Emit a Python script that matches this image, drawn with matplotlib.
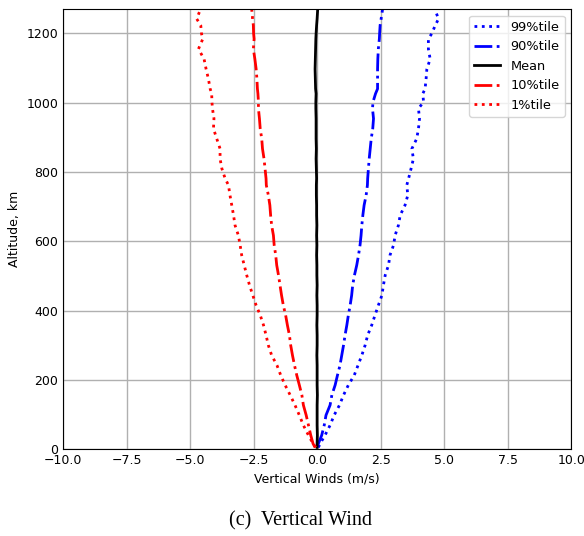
import numpy as np
import matplotlib
matplotlib.use('Agg')
import matplotlib.pyplot as plt

# altitude (km) and wind percentiles (m/s)
alt = [5, 16, 40, 69, 98, 127, 156, 185, 213, 242, 271, 300, 329, 358, 387,
       415, 444, 473, 502, 531, 560, 589, 617, 646, 675, 704, 733, 762, 781,
       810, 838, 867, 896, 925, 954, 983, 1002, 1026, 1040, 1069, 1097, 1126,
       1155, 1184, 1199, 1223, 1242, 1266, 1275]

p99 = [0.05, 0.12, 0.31, 0.51, 0.67, 0.88, 1.04, 1.23, 1.46, 1.61, 1.76, 1.89,
       1.99, 2.15, 2.28, 2.41, 2.55, 2.61, 2.68, 2.81, 2.87, 3.01, 3.07, 3.20,
       3.27, 3.46, 3.57, 3.53, 3.60, 3.70, 3.79, 3.73, 3.92, 3.99, 4.03, 3.99,
       4.19, 4.16, 4.25, 4.29, 4.32, 4.45, 4.38, 4.38, 4.51, 4.65, 4.78, 4.65,
       4.70]
p90 = [0.02, 0.05, 0.18, 0.28, 0.35, 0.51, 0.58, 0.71, 0.80, 0.90, 0.97, 1.04,
       1.10, 1.17, 1.23, 1.30, 1.36, 1.40, 1.47, 1.56, 1.63, 1.69, 1.73, 1.76,
       1.80, 1.85, 1.93, 1.98, 1.99, 2.02, 2.05, 2.09, 2.13, 2.19, 2.22, 2.18,
       2.20, 2.30, 2.38, 2.38, 2.38, 2.39, 2.41, 2.45, 2.46, 2.48, 2.52, 2.57,
       2.58]
mean = [0.0, 0.0, 0.01, 0.0, 0.0, 0.0, 0.01, 0.0, 0.0, 0.0, -0.01, 0.0, 0.0,
        -0.01, 0.0, 0.0, -0.01, 0.0, -0.01, -0.01, -0.02, -0.01, -0.02, -0.01,
        -0.02, -0.02, -0.03, -0.03, -0.02, -0.03, -0.04, -0.03, -0.04, -0.04,
        -0.04, -0.05, -0.05, -0.04, -0.06, -0.07, -0.08, -0.07, -0.06, -0.05,
        -0.04, -0.02, 0.0, 0.02, 0.02]
p10 = [-0.08, -0.16, -0.25, -0.34, -0.43, -0.54, -0.60, -0.70, -0.80, -0.89,
       -0.97, -1.04, -1.09, -1.17, -1.24, -1.33, -1.40, -1.46, -1.52, -1.59,
       -1.63, -1.69, -1.72, -1.79, -1.83, -1.86, -1.92, -2.00, -2.01, -2.05,
       -2.09, -2.15, -2.18, -2.24, -2.27, -2.31, -2.31, -2.33, -2.35, -2.37,
       -2.40, -2.45, -2.51, -2.48, -2.50, -2.51, -2.54, -2.57, -2.58]
p1 = [-0.05, -0.16, -0.34, -0.54, -0.70, -0.87, -1.06, -1.26, -1.43, -1.58,
      -1.79, -1.92, -2.01, -2.11, -2.24, -2.40, -2.53, -2.66, -2.77, -2.87,
      -2.97, -3.03, -3.10, -3.23, -3.29, -3.36, -3.43, -3.49, -3.62, -3.75,
      -3.82, -3.82, -3.95, -4.08, -4.06, -4.12, -4.14, -4.15, -4.21, -4.28,
      -4.37, -4.45, -4.67, -4.50, -4.55, -4.58, -4.74, -4.61, -4.62]

plt.rcParams['font.size'] = 9

fig = plt.figure(figsize=(5.84, 5.36), dpi=100)
ax = fig.add_axes([0.108, 0.162, 0.870, 0.821])

ax.plot(p99, alt, 'b:', lw=2, label='99%tile')
ax.plot(p90, alt, 'b-.', lw=2, label='90%tile')
ax.plot(mean, alt, 'k-', lw=2, label='Mean')
ax.plot(p10, alt, 'r-.', lw=2, label='10%tile')
ax.plot(p1, alt, 'r:', lw=2, label='1%tile')

ax.set_xlim(-10, 10)
ax.set_ylim(0, 1270)
ax.tick_params(length=0)
ax.grid(True, color='#b0b0b0', lw=1)
ax.set_xlabel('Vertical Winds (m/s)')
ax.set_ylabel('Altitude, km')
ax.legend(loc='upper right', fontsize=9.3)

fig.text(0.515, 0.028, '(c)  Vertical Wind', ha='center', va='center',
         family='Liberation Serif', fontsize=14.5)

fig.savefig('out.png', dpi=100)
